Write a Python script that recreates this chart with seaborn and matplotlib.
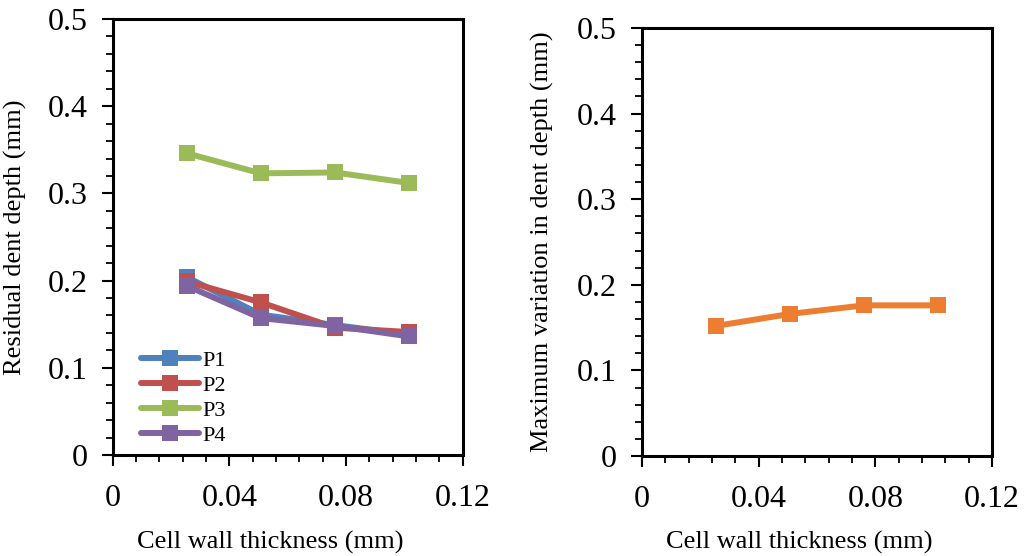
import numpy as np
import pandas as pd
import matplotlib
matplotlib.use("Agg")
import matplotlib.pyplot as plt
from matplotlib.ticker import MultipleLocator, FuncFormatter
import seaborn as sns

# Cell wall thickness (mm)
thickness = [0.0254, 0.0508, 0.0762, 0.1016]

# Residual dent depth (mm) at each position
series_names = ["P1", "P2", "P3", "P4"]
p1 = [0.204, 0.161, 0.149, 0.138]
p2 = [0.199, 0.175, 0.146, 0.141]
p3 = [0.346, 0.323, 0.324, 0.312]
p4 = [0.194, 0.157, 0.148, 0.136]

# Maximum variation in dent depth (mm)
max_variation = [0.152, 0.166, 0.176, 0.176]

series_colors = ["#4F81BD", "#C0504D", "#9BBB59", "#8064A2"]
variation_color = "#ED7D31"

sns.set_theme(style="white")
plt.rcParams["font.family"] = ["Liberation Serif", "DejaVu Serif"]
plt.rcParams.update({
    "text.color": "black",
    "axes.labelcolor": "black",
    "xtick.color": "black",
    "ytick.color": "black",
})

df_depth = pd.DataFrame({
    "thickness": thickness * 4,
    "depth": p1 + p2 + p3 + p4,
    "series": np.repeat(series_names, len(thickness)),
})
df_var = pd.DataFrame({"thickness": thickness, "variation": max_variation})

fig = plt.figure(figsize=(10.24, 5.56), dpi=100)
ax1 = fig.add_axes([112.7 / 1024, 1 - 455 / 556, 350 / 1024, 436 / 556])
ax2 = fig.add_axes([642 / 1024, 1 - 456 / 556, 350 / 1024, 428 / 556])

line_kw = dict(linewidth=4.3, marker="s", markersize=11.5, markeredgewidth=0)

sns.lineplot(data=df_depth, x="thickness", y="depth", hue="series",
             palette=series_colors, hue_order=series_names, ax=ax1,
             legend=False, **line_kw)
sns.lineplot(data=df_var, x="thickness", y="variation", color=variation_color,
             ax=ax2, **line_kw)

tick_fmt = FuncFormatter(lambda v, pos: f"{round(v, 4):g}")

for ax in (ax1, ax2):
    ax.set_xlim(0, 0.12)
    ax.set_ylim(0, 0.5)
    ax.xaxis.set_major_locator(MultipleLocator(0.04))
    ax.xaxis.set_minor_locator(MultipleLocator(0.008))
    ax.yaxis.set_major_locator(MultipleLocator(0.1))
    ax.yaxis.set_minor_locator(MultipleLocator(0.02))
    ax.xaxis.set_major_formatter(tick_fmt)
    ax.yaxis.set_major_formatter(tick_fmt)
    ax.tick_params(which="major", direction="out", length=8, width=1.5,
                   labelsize=23, color="black", labelcolor="black", pad=10,
                   left=True, bottom=True)
    ax.tick_params(which="minor", direction="out", length=5, width=1.3,
                   color="black", left=True, bottom=True)
    ax.tick_params(axis="x", which="major", pad=13)
    for sp in ax.spines.values():
        sp.set_color("black")
        sp.set_linewidth(2.2)
    ax.set_xlabel("Cell wall thickness (mm)", fontsize=19, color="black")
    ax.xaxis.set_label_coords(0.45, -0.175)

ax1.set_ylabel("Residual dent depth (mm)", fontsize=19, color="black")
ax1.yaxis.set_label_coords(-0.245, 0.5)
ax2.set_ylabel("Maximum variation in dent depth (mm)", fontsize=19, color="black")
ax2.yaxis.set_label_coords(-0.25, 0.5)

leg = ax1.legend(handles=ax1.lines[:4], labels=series_names, loc="lower left",
                 bbox_to_anchor=(0.03, -0.02), frameon=False, fontsize=16,
                 handlelength=2.6, handletextpad=0.15, labelspacing=0.2,
                 borderaxespad=0.4)
for t in leg.get_texts():
    t.set_color("black")

fig.savefig("out.png", dpi=100)
